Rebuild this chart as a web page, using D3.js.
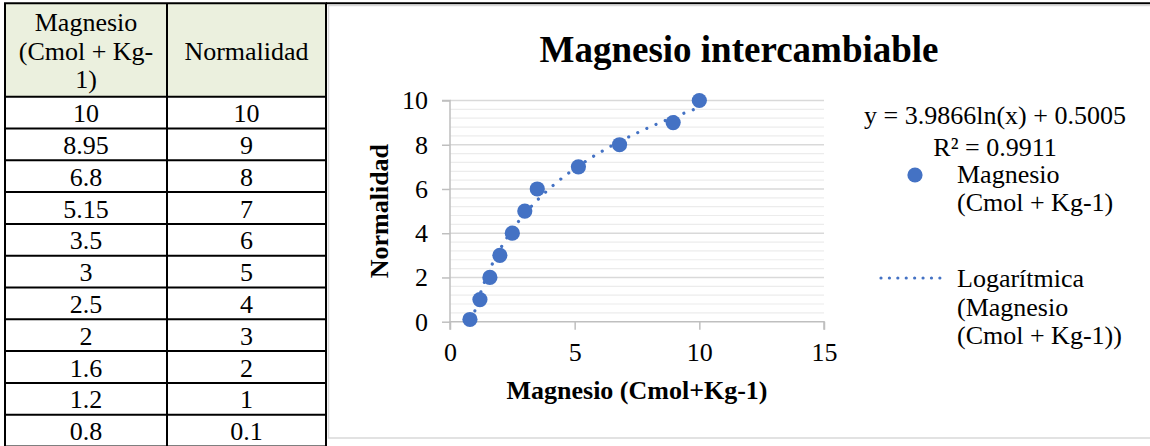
<!DOCTYPE html>
<html>
<head>
<meta charset="utf-8">
<script src="https://cdn.jsdelivr.net/npm/d3@7"></script>
<style>
  html, body { margin: 0; padding: 0; background: #fff; }
  svg { display: block; font-family: "Liberation Serif", "Times New Roman", serif; }
</style>
</head>
<body>
<svg id="page" width="1150" height="446"></svg>
<script>
// Magnesio intercambiable vs. normalidad
const magnesio = [10, 8.95, 6.8, 5.15, 3.5, 3, 2.5, 2, 1.6, 1.2, 0.8];
const normalidad = [10, 9, 8, 7, 6, 5, 4, 3, 2, 1, 0.1];
const magnesioLabels = ["10", "8.95", "6.8", "5.15", "3.5", "3", "2.5", "2", "1.6", "1.2", "0.8"];
const normalidadLabels = ["10", "9", "8", "7", "6", "5", "4", "3", "2", "1", "0.1"];
const headerCol1 = ["Magnesio", "(Cmol + Kg-", "1)"];
const headerCol2 = ["Normalidad"];

// logarithmic fit: y = a ln(x) + b
const fitA = 3.9866;
const fitB = 0.5005;
const fitR2 = 0.9911;

const xTicks = [0, 5, 10, 15];
const yTicks = [0, 2, 4, 6, 8, 10];
const chartTitle = "Magnesio intercambiable";
const xTitle = "Magnesio (Cmol+Kg-1)";
const yTitle = "Normalidad";
const legendSeries = ["Magnesio", "(Cmol + Kg-1)"];
const legendTrend = ["Logarítmica", "(Magnesio", "(Cmol + Kg-1))"];

const svg = d3.select("#page");
const blue = "#4472C4";
const FS = 26;

// ---------- data table ----------
const tbl = { x0: 5, x1: 167, x2: 326, top: 3.3, headBottom: 96.7, rowH: 31.8 };
const tg = svg.append("g");
tg.append("rect")
  .attr("x", tbl.x0).attr("y", tbl.top)
  .attr("width", tbl.x2 - tbl.x0).attr("height", tbl.headBottom - tbl.top)
  .attr("fill", "#EBF0DE");

const c1 = (tbl.x0 + tbl.x1) / 2, c2 = (tbl.x1 + tbl.x2) / 2;
tg.selectAll("text.h1").data(headerCol1).join("text")
  .attr("x", c1).attr("y", (d, i) => 31 + i * 28.5)
  .attr("text-anchor", "middle").attr("font-size", FS).attr("fill", "#000")
  .text(d => d);
tg.selectAll("text.h2").data(headerCol2).join("text")
  .attr("x", c2).attr("y", 59.5)
  .attr("text-anchor", "middle").attr("font-size", FS).attr("fill", "#000")
  .text(d => d);

const rowTop = i => tbl.headBottom + i * tbl.rowH;
tg.selectAll("text.v1").data(magnesioLabels).join("text")
  .attr("x", c1).attr("y", (d, i) => rowTop(i) + 25.5)
  .attr("text-anchor", "middle").attr("font-size", FS).text(d => d);
tg.selectAll("text.v2").data(normalidadLabels).join("text")
  .attr("x", c2).attr("y", (d, i) => rowTop(i) + 25.5)
  .attr("text-anchor", "middle").attr("font-size", FS).text(d => d);

// grid lines of the table
const hLines = [tbl.top, tbl.headBottom].concat(d3.range(1, magnesio.length + 1).map(rowTop));
tg.selectAll("line.h").data(hLines).join("line")
  .attr("x1", tbl.x0 - 1).attr("x2", tbl.x2 + 1)
  .attr("y1", d => d).attr("y2", d => d)
  .attr("stroke", "#000").attr("stroke-width", 2);
tg.selectAll("line.v").data([tbl.x0, tbl.x1, tbl.x2]).join("line")
  .attr("x1", d => d).attr("x2", d => d)
  .attr("y1", tbl.top).attr("y2", 446)
  .attr("stroke", "#000").attr("stroke-width", 2);

// ---------- chart frame ----------
svg.append("line").attr("x1", tbl.x2).attr("x2", 1150).attr("y1", 3.3).attr("y2", 3.3)
  .attr("stroke", "#000").attr("stroke-width", 2);
svg.append("rect")
  .attr("x", 328.5).attr("y", 5.5).attr("width", 840).attr("height", 432.5)
  .attr("fill", "#fff").attr("stroke", "#d9d9d9").attr("stroke-width", 1.5);

// ---------- plot ----------
const plot = { left: 450, right: 824, top: 100.5, bottom: 321.7 };
const x = d3.scaleLinear().domain([0, 15]).range([plot.left, plot.right]);
const y = d3.scaleLinear().domain([0, 10]).range([plot.bottom, plot.top]);

// minor gridlines every 0.4, major every 2
const minorVals = d3.range(0, 26).filter(i => i % 5 !== 0).map(i => i * 0.4);
svg.append("g").selectAll("line").data(minorVals).join("line")
  .attr("x1", plot.left).attr("x2", plot.right)
  .attr("y1", d => y(d)).attr("y2", d => y(d))
  .attr("stroke", "#ececec").attr("stroke-width", 1.2);
svg.append("g").selectAll("line").data(yTicks.filter(d => d !== 0)).join("line")
  .attr("x1", plot.left).attr("x2", plot.right)
  .attr("y1", d => y(d)).attr("y2", d => y(d))
  .attr("stroke", "#d9d9d9").attr("stroke-width", 1.5);

// axes
const yAxis = svg.append("g").attr("transform", `translate(${plot.left},0)`)
  .call(d3.axisLeft(y).tickValues(yTicks).tickSize(8).tickPadding(14).tickFormat(d3.format("d")));
const xAxis = svg.append("g").attr("transform", `translate(0,${plot.bottom})`)
  .call(d3.axisBottom(x).tickValues(xTicks).tickSize(8).tickPadding(14).tickFormat(d3.format("d")));
[yAxis, xAxis].forEach(ax => {
  ax.select(".domain").attr("stroke", "#bfbfbf").attr("stroke-width", 1.5);
  ax.selectAll(".tick line").attr("stroke", "#bfbfbf").attr("stroke-width", 1.5);
  ax.selectAll(".tick text").attr("font-family", "Liberation Serif, Times New Roman, serif")
    .attr("font-size", FS).attr("fill", "#000");
});
yAxis.select(".domain").attr("d", `M-8,${plot.top}H0V${plot.bottom}`);
xAxis.select(".domain").attr("d", `M${plot.left},8V0H${plot.right}V8`);
xAxis.selectAll(".tick text").attr("dy", null).attr("y", 39);

// trendline, clipped to the plot area
svg.append("clipPath").attr("id", "plotClip").append("rect")
  .attr("x", plot.left).attr("y", plot.top - 10)
  .attr("width", plot.right - plot.left).attr("height", plot.bottom - plot.top + 10);
const xmin = d3.min(magnesio), xmax = d3.max(magnesio);
const trendPts = d3.range(0, 201).map(i => {
  const xv = xmin + (xmax - xmin) * i / 200;
  return [xv, fitA * Math.log(xv) + fitB];
});
svg.append("path")
  .attr("clip-path", "url(#plotClip)")
  .attr("d", d3.line().x(d => x(d[0])).y(d => y(d[1]))(trendPts))
  .attr("fill", "none").attr("stroke", blue).attr("stroke-width", 3.2)
  .attr("stroke-linecap", "round").attr("stroke-dasharray", "0.01 10");

// points
svg.append("g").selectAll("circle").data(magnesio).join("circle")
  .attr("cx", d => x(d)).attr("cy", (d, i) => y(normalidad[i]))
  .attr("r", 7.6).attr("fill", blue);

// titles
svg.append("text").attr("x", 739).attr("y", 62).attr("text-anchor", "middle")
  .attr("font-size", 37).attr("font-weight", "bold").text(chartTitle);
svg.append("text").attr("x", (plot.left + plot.right) / 2).attr("y", 399)
  .attr("text-anchor", "middle").attr("font-size", FS).attr("font-weight", "bold").text(xTitle);
svg.append("text")
  .attr("transform", `translate(388,${(plot.top + plot.bottom) / 2}) rotate(-90)`)
  .attr("text-anchor", "middle").attr("font-size", FS).attr("font-weight", "bold").text(yTitle);

// legend with fit equation
const fmt4 = d3.format(".4f");
svg.append("text").attr("x", 995).attr("y", 124).attr("text-anchor", "middle")
  .attr("font-size", FS).text(`y = ${fmt4(fitA)}ln(x) + ${fmt4(fitB)}`);
svg.append("text").attr("x", 995).attr("y", 156).attr("text-anchor", "middle")
  .attr("font-size", FS).text(`R² = ${fmt4(fitR2)}`);

const legX = 957;
svg.append("circle").attr("cx", 915).attr("cy", 175).attr("r", 7.6).attr("fill", blue);
svg.append("g").selectAll("text").data(legendSeries).join("text")
  .attr("x", legX).attr("y", (d, i) => 183 + i * 28).attr("font-size", FS).text(d => d);

svg.append("line").attr("x1", 881).attr("x2", 948).attr("y1", 278).attr("y2", 278)
  .attr("stroke", blue).attr("stroke-width", 3.2).attr("stroke-linecap", "round")
  .attr("stroke-dasharray", "0.01 8.4");
svg.append("g").selectAll("text").data(legendTrend).join("text")
  .attr("x", legX).attr("y", (d, i) => 287 + i * 28.5).attr("font-size", FS).text(d => d);
</script>
</body>
</html>
